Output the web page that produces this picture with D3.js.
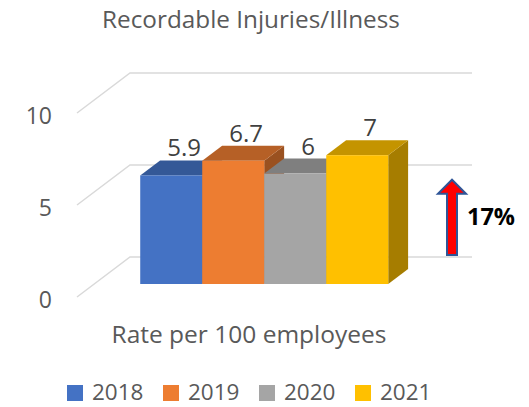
<!DOCTYPE html>
<html><head><meta charset="utf-8">
<script src="https://cdn.jsdelivr.net/npm/d3@7/dist/d3.min.js"></script>
<style>html,body{margin:0;padding:0;background:#fff;}svg{display:block;}</style>
</head><body>
<svg id="c" width="529" height="407"></svg>
<script>
const years = ["2018", "2019", "2020", "2021"];
const values = [5.9, 6.7, 6, 7];
const labels = ["5.9", "6.7", "6", "7"];
const yTicks = [0, 5, 10];
const colors = ["#4472C4", "#ED7D31", "#A5A5A5", "#FFC000"];
const title = "Recordable Injuries/Illness";
const axisTitle = "Rate per 100 employees";
const changeLabel = "17%";

const svg = d3.select("#c");
const FONT = "'Open Sans', sans-serif";

// 3D projection: front plane + depth vector
const depth = [53, -40];
const d0 = 0.325, d1 = 0.7;
const y = d3.scaleLinear().domain([0, 10]).range([297, 113]);
const x = d3.scaleBand().domain(years).range([123, 371]).padding(0);
const floorX0 = 77, floorX1 = 419;
const P = (px, py, d) => [px + depth[0] * d, py + depth[1] * d];

// gridlines: left wall diagonals + back wall horizontals
const g = svg.append("g").attr("stroke", "#D9D9D9").attr("stroke-width", 1.5).attr("fill", "none");
yTicks.forEach(t => {
  const a = P(floorX0, y(t), 0), b = P(floorX0, y(t), 1), c = P(floorX1, y(t), 1);
  g.append("path").attr("d", `M${a}L${b}L${c}`);
});

// tick labels
svg.append("g").selectAll("text").data(yTicks).join("text")
  .attr("x", 52).attr("y", d => y(d) + 3).attr("dy", "0.35em")
  .attr("text-anchor", "end").attr("font-family", FONT).attr("font-size", 23)
  .attr("fill", "#595959").text(d => d);

const shade = (c, k) => { const r = d3.rgb(c); return d3.rgb(r.r * k, r.g * k, r.b * k).toString(); };

// bars
const bg = svg.append("g");
const bw = x.bandwidth();
const ddx = depth[0] * (d1 - d0), ddy = depth[1] * (d1 - d0);
years.forEach((yr, i) => {
  const [x0, yb] = P(x(yr), y(0), d0);
  const yt = P(x(yr), y(values[i]), d0)[1];
  const x1 = x0 + bw;
  bg.append("path").attr("fill", shade(colors[i], 0.65))
    .attr("d", `M${x1},${yt}L${x1 + ddx},${yt + ddy}L${x1 + ddx},${yb + ddy}L${x1},${yb}Z`);
  bg.append("path").attr("fill", shade(colors[i], 0.77))
    .attr("d", `M${x0},${yt}L${x0 + ddx},${yt + ddy}L${x1 + ddx},${yt + ddy}L${x1},${yt}Z`);
  bg.append("rect").attr("x", x0).attr("y", yt).attr("width", bw).attr("height", yb - yt)
    .attr("fill", colors[i]);
});

// data labels
years.forEach((yr, i) => {
  const [x0] = P(x(yr), y(0), d0);
  const yt = P(x(yr), y(values[i]), d0)[1];
  svg.append("text").attr("x", x0 + bw / 2 + 13).attr("y", yt + ddy - 4)
    .attr("text-anchor", "middle").attr("font-family", FONT).attr("font-size", 24)
    .attr("fill", "#404040").text(labels[i]);
});

// arrow annotation
const ax = 452, aBase = P(0, y(0), 1)[1] - 2, aTip = P(0, y(4.2), 1)[1];
const headY = aTip + 14, sw = 5, hw = 14;
svg.append("path")
  .attr("d", `M${ax - sw},${aBase}L${ax - sw},${headY}L${ax - hw},${headY}L${ax},${aTip}L${ax + hw},${headY}L${ax + sw},${headY}L${ax + sw},${aBase}Z`)
  .attr("fill", "#FF0000").attr("stroke", "#2F5597").attr("stroke-width", 2).attr("stroke-linejoin", "miter");
svg.append("text").attr("x", 467).attr("y", 225).attr("font-family", FONT)
  .attr("font-weight", "bold").attr("font-size", 23.5).attr("fill", "#000").text(changeLabel);

// title & axis title
svg.append("text").attr("x", 251).attr("y", 28).attr("text-anchor", "middle")
  .attr("font-family", FONT).attr("font-size", 24.3).attr("fill", "#595959").text(title);
svg.append("text").attr("x", 249).attr("y", 343).attr("text-anchor", "middle")
  .attr("font-family", FONT).attr("font-size", 24.5).attr("fill", "#595959").text(axisTitle);

// legend
const lg = svg.append("g");
years.forEach((yr, i) => {
  const lx = 67 + i * 96;
  lg.append("rect").attr("x", lx).attr("y", 385).attr("width", 16).attr("height", 16).attr("fill", colors[i]);
  lg.append("text").attr("x", lx + 25).attr("y", 400).attr("font-family", FONT).attr("font-size", 22.5)
    .attr("fill", "#595959").text(yr);
});
</script>
</body></html>
